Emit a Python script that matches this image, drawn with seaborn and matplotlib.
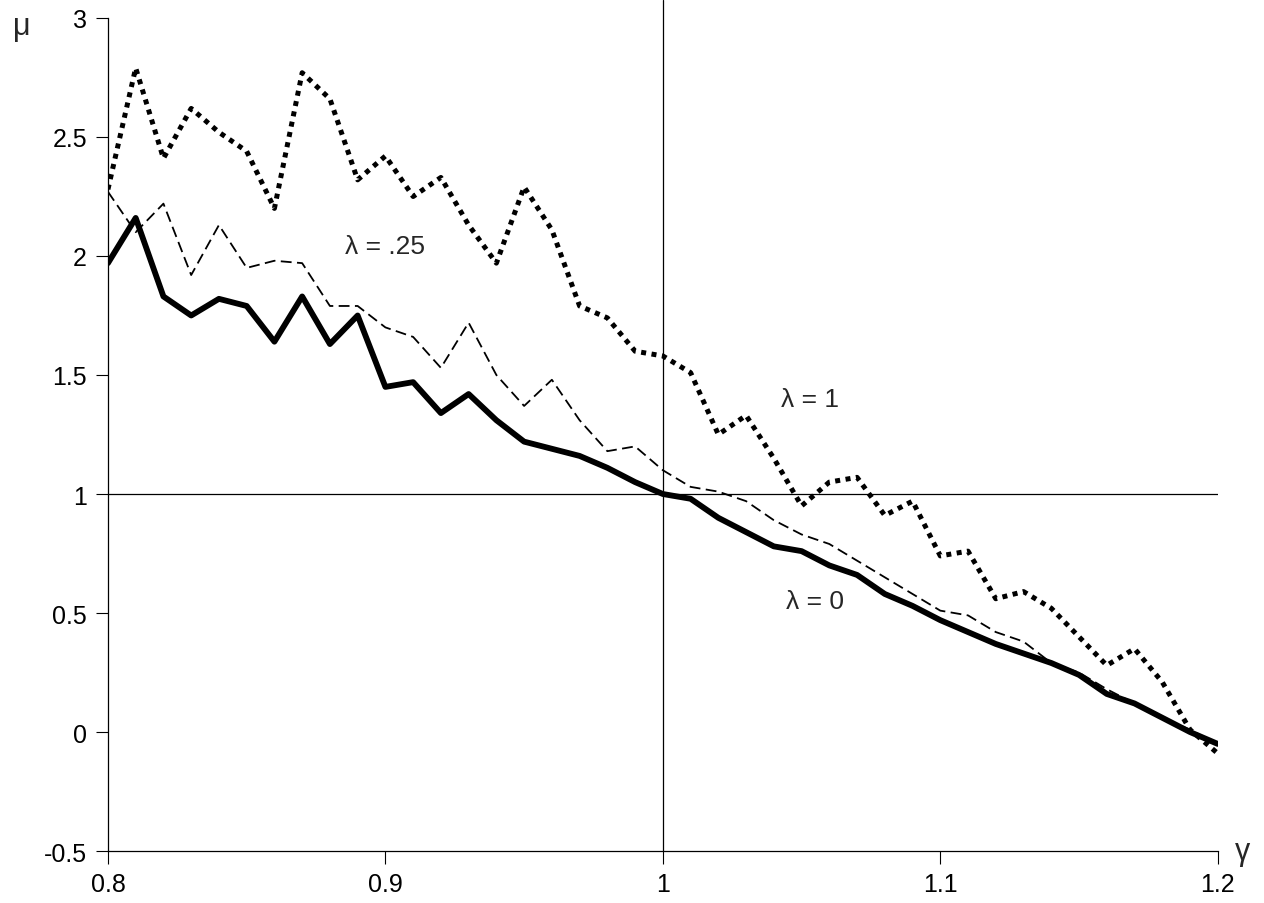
import numpy as np
import matplotlib
matplotlib.use("Agg")
import matplotlib.pyplot as plt
import seaborn as sns
from matplotlib.ticker import FuncFormatter

# gamma grid (0.80 .. 1.20 in steps of 0.01)
gamma = [round(0.80 + 0.01 * i, 2) for i in range(41)]

# mu for lambda = 0 (thick solid)
mu_lam0 = [1.97, 2.16, 1.83, 1.75, 1.82, 1.79, 1.64, 1.83, 1.63, 1.75,
           1.45, 1.47, 1.34, 1.42, 1.31, 1.22, 1.19, 1.16, 1.11, 1.05,
           1.00, 0.98, 0.90, 0.84, 0.78, 0.76, 0.70, 0.66, 0.58, 0.53,
           0.47, 0.42, 0.37, 0.33, 0.29, 0.24, 0.16, 0.12, 0.06, 0.00,
           -0.05]

# mu for lambda = .25 (thin dashed)
mu_lam025 = [2.27, 2.10, 2.22, 1.92, 2.13, 1.95, 1.98, 1.97, 1.79, 1.79,
             1.70, 1.66, 1.53, 1.72, 1.50, 1.37, 1.48, 1.31, 1.18, 1.20,
             1.10, 1.03, 1.01, 0.97, 0.89, 0.83, 0.79, 0.72, 0.65, 0.58,
             0.51, 0.49, 0.42, 0.38, 0.29, 0.25, 0.18, 0.12, 0.06, 0.01,
             -0.05]

# mu for lambda = 1 (dotted)
mu_lam1 = [2.28, 2.79, 2.41, 2.62, 2.52, 2.44, 2.20, 2.77, 2.66, 2.32,
           2.42, 2.25, 2.33, 2.13, 1.97, 2.29, 2.11, 1.79, 1.74, 1.60,
           1.58, 1.51, 1.25, 1.33, 1.15, 0.95, 1.05, 1.07, 0.91, 0.97,
           0.74, 0.76, 0.56, 0.59, 0.52, 0.40, 0.28, 0.35, 0.21, 0.01,
           -0.09]

sns.set_theme(style="ticks")
plt.rcParams['font.family'] = ['Liberation Sans', 'DejaVu Sans']

fig = plt.figure(figsize=(12.64, 9.04), dpi=100)
ax = fig.add_axes([0.0854, 0.0575, 0.878, 0.9215])

# reference lines
ax.axhline(1, color='black', lw=0.9, zorder=1)
ax.axvline(1, color='black', lw=0.9, zorder=1, clip_on=False, ymax=1.022)

sns.lineplot(x=gamma, y=mu_lam1, ax=ax, color='black', lw=3.6,
             linestyle=(0, (1.0, 1.1)))
sns.lineplot(x=gamma, y=mu_lam025, ax=ax, color='black', lw=1.3,
             linestyle=(0, (6, 3)))
sns.lineplot(x=gamma, y=mu_lam0, ax=ax, color='black', lw=4.2)

ax.set_xlim(0.8, 1.2)
ax.set_ylim(-0.5, 3)
ax.set_xticks([0.8, 0.9, 1.0, 1.1, 1.2])
ax.set_yticks([-0.5, 0, 0.5, 1, 1.5, 2, 2.5, 3])
ax.xaxis.set_major_formatter(FuncFormatter(lambda v, p: f"{v:g}"))
ax.yaxis.set_major_formatter(FuncFormatter(lambda v, p: f"{v:g}"))
ax.tick_params(axis='both', labelsize=18, length=9, width=0.8,
               pad=6, direction='out', colors='black')
for s in ['top', 'right']:
    ax.spines[s].set_visible(False)
for s in ['left', 'bottom']:
    ax.spines[s].set_color('black')
    ax.spines[s].set_linewidth(0.9)

# curve labels
ax.text(0.90, 2.04, "λ = .25", fontsize=19, ha='center', va='center')
ax.text(1.053, 1.40, "λ = 1", fontsize=19, ha='center', va='center')
ax.text(1.055, 0.55, "λ = 0", fontsize=19, ha='center', va='center')

# axis labels placed at the ends of the axes
fig.text(0.0103, 0.970, "μ", fontsize=22, ha='left', va='center')
fig.text(0.983, 0.057, "γ", fontsize=22, ha='center', va='center')

fig.savefig("out.png", dpi=100)
